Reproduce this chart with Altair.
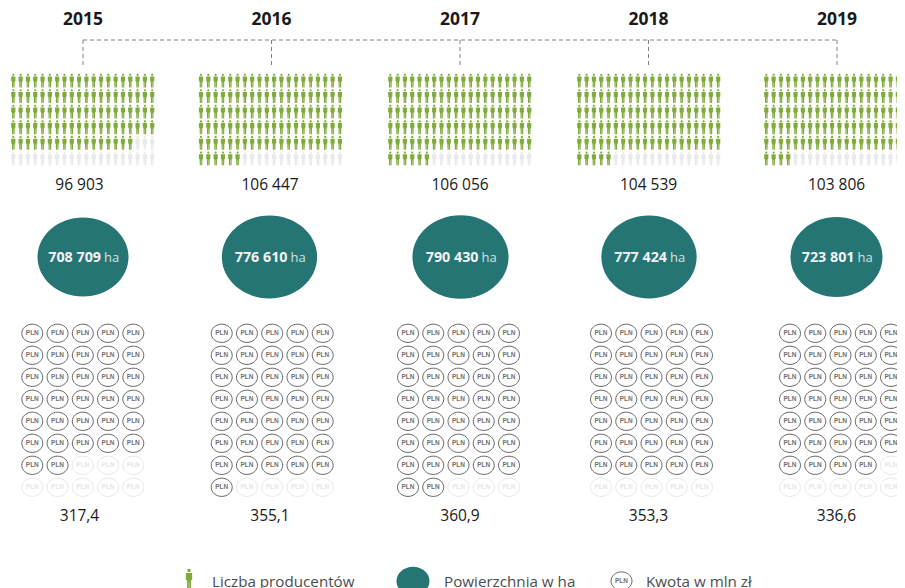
import altair as alt
import pandas as pd

years = ["2015", "2016", "2017", "2018", "2019"]
producers = ["96 903", "106 447", "106 056", "104 539", "103 806"]
areas = [708709, 776610, 790430, 777424, 723801]
area_labels = ["708 709", "776 610", "790 430", "777 424", "723 801"]
amounts = ["317,4", "355,1", "360,9", "353,3", "336,6"]
people_on = [97, 106, 106, 105, 104]
coins_on = [32, 36, 37, 35, 34]

centers = [83, 271.5, 460, 648.5, 837]
label_x = [79.5, 270, 460, 648.5, 836.5]
oval_x = [83, 269.5, 460.5, 649, 836.5]
people_x0 = [13.3, 201, 390.3, 579.3, 766.3]
coins_x0 = [32.3, 221.7, 408, 601, 790]

PERSON = ("M-0.16,-0.82A0.16,0.16 0 1 1 0.16,-0.82A0.16,0.16 0 1 1 -0.16,-0.82Z"
          "M-0.3,-0.58L0.3,-0.58L0.3,0.1L0.2,0.1L0.18,1L0.02,1L0.02,0.25"
          "L-0.02,0.25L-0.02,1L-0.18,1L-0.2,0.1L-0.3,0.1Z")
OVAL = "M-1,0A1,0.87 0 1 1 1,0A1,0.87 0 1 1 -1,0Z"
GREEN, GREY, TEAL = "#7fab3b", "#e8e9ea", "#257574"

people, coins = [], []
for i in range(5):
    for k in range(120):
        people.append({"x": people_x0[i] + (k % 20) * 7.31, "y": 80.5 + (k // 20) * 15.55,
                       "on": "on" if k < people_on[i] else "off"})
    for k in range(40):
        coins.append({"x": coins_x0[i] + (k % 5) * 25.25, "y": 333.3 + (k // 5) * 22,
                      "on": "on" if k < coins_on[i] else "off"})
people = pd.DataFrame(people)
coins = pd.DataFrame(coins)
rows = pd.DataFrame({"year": years, "c": centers, "lx": label_x, "ox": oval_x, "prod": producers,
                     "area": areas, "al": area_labels, "amt": amounts,
                     "ha": ["ha"] * 5})

XS = alt.Scale(domain=[8, 897], nice=False, zero=False)
YS = alt.Scale(domain=[8, 588], reverse=True, nice=False, zero=False)
X = alt.X("x:Q", scale=XS, axis=None)
Y = alt.Y("y:Q", scale=YS, axis=None)
def xf(f): return alt.X(f, scale=XS, axis=None)
def yv(v): return alt.Y(datum=v, type="quantitative", scale=YS, axis=None)

FONT = "Open Sans"
state = lambda a, b: alt.Color("on:N", scale=alt.Scale(domain=["on", "off"], range=[a, b]), legend=None)

people_layer = alt.Chart(people).mark_point(shape=PERSON, filled=True, size=196, opacity=1).encode(
    x=X, y=Y, color=state(GREEN, GREY))
coin_layer = alt.Chart(coins).mark_point(shape=OVAL, filled=False, size=441, opacity=1, strokeWidth=1).encode(
    x=X, y=Y, stroke=alt.Stroke("on:N", scale=alt.Scale(domain=["on", "off"], range=["#666666", "#e8e8e8"]), legend=None))
coin_text = alt.Chart(coins).mark_text(text="PLN", font="Liberation Sans", fontWeight="bold", fontSize=6.5, baseline="middle", opacity=0.99).encode(
    x=X, y=Y, color=state("#707070", "#e6e6e6"))

ovals = alt.Chart(rows).mark_point(shape=OVAL, filled=True, opacity=1, color=TEAL).encode(
    x=xf("ox:Q"), y=yv(257),
    size=alt.Size("area:Q", scale=alt.Scale(domain=[0, 1000000], range=[0, 11680]), legend=None))
oval_b = alt.Chart(rows).mark_text(font=FONT, fontWeight="bold", fontSize=14.3, align="right", baseline="middle", color="#f2f2f2", dx=18).encode(
    x=xf("ox:Q"), y=yv(258), text="al:N")
oval_h = alt.Chart(rows).mark_text(font=FONT, fontSize=13, align="left", baseline="middle", color="#d5e3e3", dx=21).encode(
    x=xf("ox:Q"), y=yv(258), text="ha:N")

year_t = alt.Chart(rows).mark_text(font=FONT, fontWeight="bold", fontSize=17.5, baseline="middle", color="#1a1a1a").encode(
    x=xf("c:Q"), y=yv(20), text="year:N")
prod_t = alt.Chart(rows).mark_text(font=FONT, fontSize=15.5, baseline="middle", color="#1a1a1a").encode(
    x=xf("lx:Q"), y=yv(185), text="prod:N")
amt_t = alt.Chart(rows).mark_text(font=FONT, fontSize=15.5, baseline="middle", color="#1a1a1a").encode(
    x=xf("lx:Q"), y=yv(516), text="amt:N")

DASH = dict(color="#808080", strokeWidth=1, strokeDash=[4, 3])
h_line = alt.Chart(pd.DataFrame({"a": [centers[0]], "b": [centers[-1]]})).mark_rule(**DASH).encode(
    x=xf("a:Q"), x2="b:Q", y=yv(40))
v_line = alt.Chart(rows).mark_rule(**DASH).encode(x=xf("c:Q"), y=yv(40), y2=alt.Y2(datum=66))

leg_person = alt.Chart(pd.DataFrame({"x": [189], "y": [579]})).mark_point(
    shape=PERSON, filled=True, size=441, opacity=1, color=GREEN).encode(x=X, y=Y)
leg_oval = alt.Chart(pd.DataFrame({"x": [413], "y": [581]})).mark_point(
    shape=OVAL, filled=True, size=1089, opacity=1, color=TEAL).encode(x=X, y=Y)
leg_coin = alt.Chart(pd.DataFrame({"x": [621.5], "y": [581]})).mark_point(
    shape=OVAL, filled=False, size=441, opacity=1, strokeWidth=1, color="#666666").encode(x=X, y=Y)
leg_coin_t = alt.Chart(pd.DataFrame({"x": [621.5], "y": [581]})).mark_text(
    text="PLN", font="Liberation Sans", fontWeight="bold", fontSize=6.5, baseline="middle", color="#707070", opacity=0.99).encode(x=X, y=Y)
leg_text = alt.Chart(pd.DataFrame({"x": [212, 444, 646], "y": [582, 582, 582],
                                   "t": ["Liczba producentów", "Powierzchnia w ha", "Kwota w mln zł"]})).mark_text(
    font=FONT, fontSize=15.2, align="left", baseline="middle", color="#4d4d4d").encode(x=X, y=Y, text="t:N")

chart = alt.layer(h_line, v_line, people_layer, coin_layer, coin_text, ovals, oval_b, oval_h,
                  year_t, prod_t, amt_t, leg_person, leg_oval, leg_coin, leg_coin_t, leg_text).resolve_scale(
    color="independent", stroke="independent").properties(
    width=889, height=580, padding=0, autosize=alt.AutoSizeParams(type="none"),
    background="white").configure_view(stroke=None)

chart.save("out.html", embed_options={"renderer": "svg", "actions": False})
